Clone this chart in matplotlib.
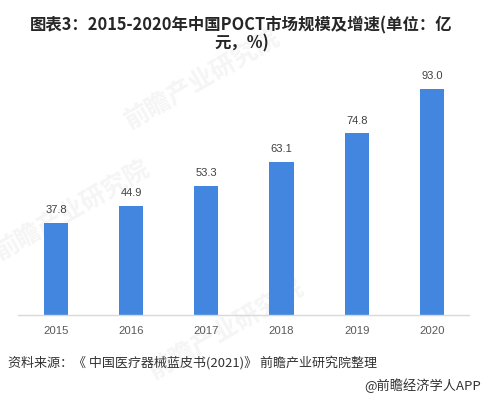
import matplotlib
matplotlib.use("Agg")
import matplotlib.pyplot as plt

plt.rcParams['font.family'] = ['Noto Sans CJK SC', 'DejaVu Sans']

# Data
years = ["2015", "2016", "2017", "2018", "2019", "2020"]
market_size = [37.8, 44.9, 53.3, 63.1, 74.8, 93.0]

title = "图表3：2015-2020年中国POCT市场规模及增速(单位：亿\n元，%)"
source = "资料来源：《 中国医疗器械蓝皮书(2021)》 前瞻产业研究院整理"
credit = "@前瞻经济学人APP"

fig = plt.figure(figsize=(4.83, 3.98), dpi=100)

# faint watermarks, kept underneath the axes
for wx, wy in [(0.42, 0.80), (0.15, 0.47), (0.47, 0.17)]:
    fig.text(wx, wy, "前瞻产业研究院", fontsize=18, fontweight="bold",
             color="#f5f5f5", rotation=30, ha="center", va="center",
             zorder=-5)

ax = fig.add_axes([0.038, 0.2085, 0.934, 0.61])
ax.patch.set_alpha(0)

x = range(len(years))
bars = ax.bar(x, market_size, width=0.32, color="#4286e0", zorder=2)

for b, v in zip(bars, market_size):
    ax.text(b.get_x() + b.get_width() / 2, v + 3.2, f"{v:.1f}",
            ha="center", va="bottom", fontsize=8, color="#404040",
            family=["Liberation Sans", "DejaVu Sans"])

ax.set_xlim(-0.5, 5.5)
ax.set_ylim(0, 100)
ax.set_xticks(list(x))
ax.set_xticklabels(years, fontsize=8.2, color="#595959",
                   family=["Liberation Sans", "DejaVu Sans"])
ax.tick_params(axis="x", length=0, pad=8)
ax.set_yticks([])
for side in ["top", "right", "left"]:
    ax.spines[side].set_visible(False)
ax.spines["bottom"].set_color("#d9d9d9")
ax.spines["bottom"].set_linewidth(1.0)

fig.text(0.5, 0.913, title, ha="center", va="center", fontsize=11.8,
         fontweight="bold", color="#262626", linespacing=1.0)
fig.text(0.016, 0.088, source, ha="left", va="center", fontsize=9.4,
         color="#333333")
fig.text(0.995, 0.032, credit, ha="right", va="center", fontsize=9.5,
         color="#333333")

fig.savefig("out.png", dpi=100, facecolor="white")
